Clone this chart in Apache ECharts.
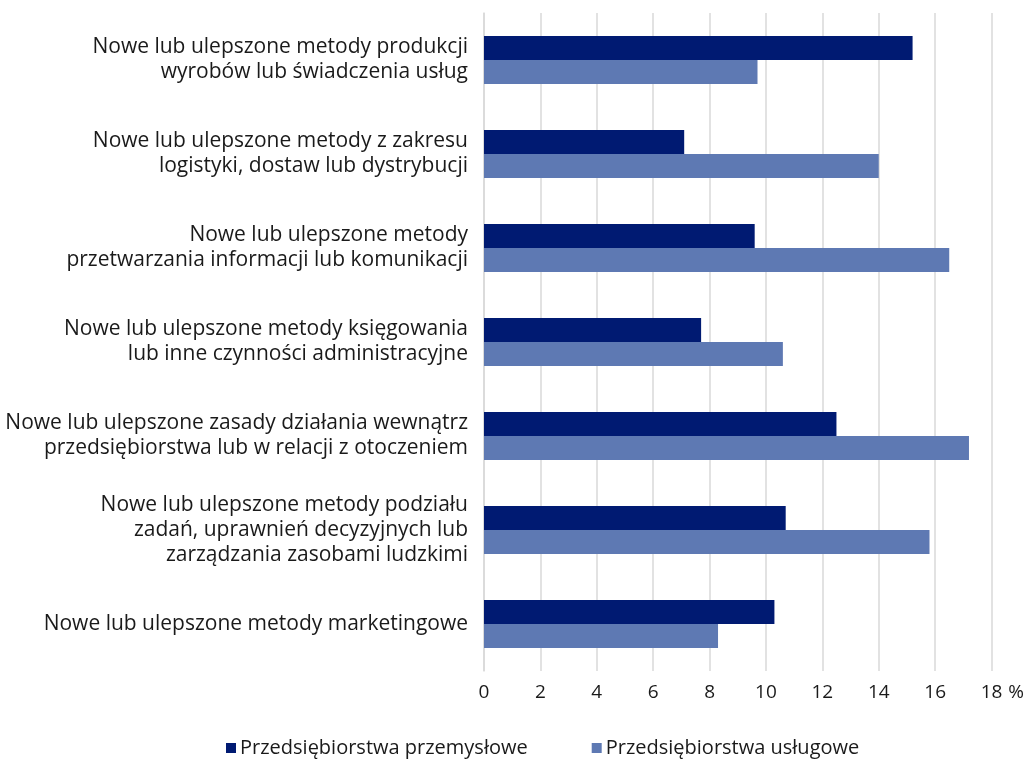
<!DOCTYPE html>
<html>
<head>
<meta charset="utf-8">
<script src="https://cdn.jsdelivr.net/npm/echarts@6/dist/echarts.min.js"></script>
<style>html,body{margin:0;padding:0;background:#fff}#c{width:1027px;height:765px}</style>
</head>
<body>
<div id="c"></div>
<script>
const categories = [
  "Nowe lub ulepszone metody produkcji\nwyrobów lub świadczenia usług",
  "Nowe lub ulepszone metody z zakresu\nlogistyki, dostaw lub dystrybucji",
  "Nowe lub ulepszone metody\nprzetwarzania informacji lub komunikacji",
  "Nowe lub ulepszone metody księgowania\nlub inne czynności administracyjne",
  "Nowe lub ulepszone zasady działania wewnątrz\nprzedsiębiorstwa lub w relacji z otoczeniem",
  "Nowe lub ulepszone metody podziału\nzadań, uprawnień decyzyjnych lub\nzarządzania zasobami ludzkimi",
  "Nowe lub ulepszone metody marketingowe"
];
const seriesNames = ["Przedsiębiorstwa przemysłowe", "Przedsiębiorstwa usługowe"];
const industrial = [15.2, 7.1, 9.6, 7.7, 12.5, 10.7, 10.3];
const services = [9.7, 14.0, 16.5, 10.6, 17.2, 15.8, 8.3];

const FONT = "Open Sans";
const chart = echarts.init(document.getElementById('c'));
chart.setOption({
  backgroundColor: '#fff',
  textStyle: { fontFamily: FONT },
  grid: { left: 484, right: 34, top: 13, bottom: 94, containLabel: false },
  legend: {
    bottom: 2, left: 221,
    itemWidth: 10, itemHeight: 10, itemGap: 64,
    icon: 'rect',
    textStyle: { fontFamily: FONT, fontSize: 20, color: '#1a1a1a', padding: [0, 0, 0, -1] },
    data: seriesNames
  },
  xAxis: {
    type: 'value', min: 0, max: 18, interval: 2,
    axisLine: { show: false }, axisTick: { show: false },
    splitLine: { show: true, lineStyle: { color: '#d9d9d9', width: 1.5 } },
    axisLabel: {
      fontFamily: FONT, fontSize: 19, color: '#1a1a1a', margin: 12,
      formatter: v => String(v)
    },
    name: '%', nameLocation: 'end', nameGap: 3,
    nameTextStyle: { fontFamily: FONT, fontSize: 19, color: '#1a1a1a', verticalAlign: 'top', padding: [12, 0, 0, 0] }
  },
  yAxis: {
    type: 'category', data: categories, inverse: true,
    axisLine: { show: true, lineStyle: { color: '#d9d9d9', width: 1.5 } },
    axisTick: { show: false },
    axisLabel: { fontFamily: FONT, fontSize: 21, color: '#1a1a1a', margin: 16, lineHeight: 25, align: 'right' }
  },
  series: [
    { name: seriesNames[0], type: 'bar', data: industrial, barWidth: 24, barGap: '0%', itemStyle: { color: '#001a72' } },
    { name: seriesNames[1], type: 'bar', data: services, barWidth: 24, barGap: '0%', itemStyle: { color: '#5e79b3' } }
  ]
});
</script>
</body>
</html>
